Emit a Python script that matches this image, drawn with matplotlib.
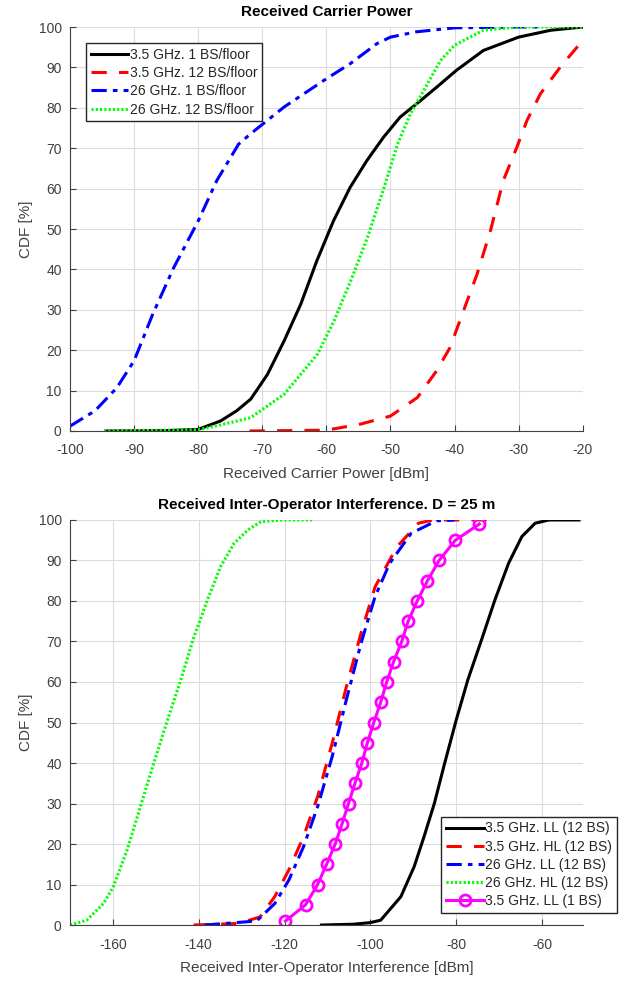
import numpy as np
import matplotlib
matplotlib.use('Agg')
import matplotlib.pyplot as plt

plt.rcParams['font.family'] = ['Liberation Sans', 'DejaVu Sans']
plt.rcParams['axes.unicode_minus'] = False

# --- верхній графік: потужність несучої ---
p35_1_x = [-94.4, -85, -80, -76.5, -74, -71.8, -69.2, -66.6, -64, -61.5, -58.9, -56.3, -53.7, -51.1,
           -48.5, -45.6, -42.8, -39.7, -35.5, -30, -25, -20]
p35_1_y = [0, 0.1, 0.4, 2.5, 5, 7.9, 14, 22.3, 31.4, 42.1, 52, 60.3, 66.9, 72.7,
           77.7, 81.4, 85.1, 89.3, 94.2, 97.5, 99.2, 100]
p35_12_x = [-72, -60, -54.7, -50, -45.8, -42.8, -40.7, -38.6, -36.5, -34.4, -32.4, -30.3, -28.7, -26.6, -23.5, -20]
p35_12_y = [0, 0.2, 1.7, 3.7, 8.3, 14.9, 20.7, 29.8, 38.8, 49.6, 62, 70.2, 76.9, 83.5, 90.1, 96.7]
p26_1_x = [-100, -96.1, -92.7, -90, -87.1, -83.8, -80, -77.1, -73.7, -71.8, -66.6, -60, -56.3, -52.1, -50, -46,
           -40, -30, -27]
p26_1_y = [1.2, 5, 10.7, 17.4, 28.9, 40.5, 52, 62, 71, 73.6, 80.2, 87.2, 90.9, 95.9, 97.5, 98.8,
           99.8, 100, 100]
p26_12_x = [-94.7, -80, -76.5, -71.8, -66.6, -61.4, -58.8, -56.2, -53.6, -51, -48.9, -46.9, -44.8, -42.2,
            -40, -35.5, -30, -20]
p26_12_y = [0, 0.3, 1.5, 3.3, 9.1, 19, 27.3, 37.2, 47.9, 60.3, 71, 78.5, 84.3, 91.7,
            95.5, 99.2, 100, 100]

# --- нижній графік: міжоператорська інтерференція ---
ll35_12_x = [-111.4, -104, -100, -97.6, -92.9, -89.8, -87.5, -85.1, -82.7, -80, -77.3, -74.1, -71, -67.8,
             -64.7, -61.6, -58.4, -51.4]
ll35_12_y = [0, 0.2, 0.6, 1.2, 7, 14.4, 21.8, 30, 39.9, 50.6, 60.5, 70.4, 80.2, 89.3,
             95.9, 99.2, 100, 100]
hl35_12_x = [-141.2, -130.7, -125.7, -122.3, -119, -115.6, -112.3, -108.9, -105.6, -102.2, -98.9, -93.8,
             -88.8, -85.4, -72.9]
hl35_12_y = [0, 0.4, 2, 7, 13.6, 21.8, 31.7, 44.9, 58.8, 72, 83.5, 93.4, 99.2, 100, 100]
ll26_12_x = [-138.6, -126.5, -122.3, -119, -115.6, -112.3, -108.9, -105.6, -102.2, -98.9, -95.5, -90.5,
             -84.6, -80.4]
ll26_12_y = [0, 1, 5.3, 11.1, 19.3, 29.2, 41.6, 55.6, 69.5, 81.1, 89.3, 96.7, 99.8, 100]
hl26_12_x = [-170, -166.1, -162.2, -159.9, -156.7, -153.6, -150.5, -147.3, -144.2, -141.1, -138, -134.9,
             -131.8, -128.6, -125.5, -120, -113.1]
hl26_12_y = [0, 1.2, 5.3, 9.5, 18.5, 29.2, 39.9, 50.6, 60.5, 71.2, 80.2, 88.5,
             94.2, 97.5, 99.6, 100, 100]
ll35_1_x = [-119.8, -115.1, -112.3, -110.2, -108.2, -106.6, -105.1, -103.6, -102, -100.7, -99.2,
            -97.6, -96.2, -94.6, -92.7, -91.2, -89.1, -86.7, -84, -80.2, -74.6]
ll35_1_y = [1, 5, 10, 15, 20, 25, 30, 35, 40, 45, 50, 55, 60, 65, 70, 75, 80, 85, 90, 95, 99]

fig = plt.figure(figsize=(6.28, 9.82), dpi=100)
ax1 = fig.add_axes([0.1115, 0.5611, 0.8165, 0.4114])
ax2 = fig.add_axes([0.1115, 0.0580, 0.8165, 0.4125])

lw = 2.2
dash = (5, 4)
dashdot = (5, 2, 1.5, 2)
dot = (0.7, 0.7)
ax1.plot(p35_1_x, p35_1_y, '-', color='k', lw=lw, label='3.5 GHz. 1 BS/floor')
ax1.plot(p35_12_x, p35_12_y, '--', color='r', lw=lw, dashes=dash, label='3.5 GHz. 12 BS/floor')
ax1.plot(p26_1_x, p26_1_y, '-.', color='b', lw=lw, dashes=dashdot, label='26 GHz. 1 BS/floor')
ax1.plot(p26_12_x, p26_12_y, ':', color='#00ff00', lw=lw, dashes=dot, label='26 GHz. 12 BS/floor')
ax1.set_xlim(-100, -20)
ax1.set_ylim(0, 100)
ax1.set_xticks(np.arange(-100, -19, 10))
ax1.set_yticks(np.arange(0, 101, 10))
ax1.set_title('Received Carrier Power', fontsize=11, fontweight='bold', pad=8)
ax1.set_xlabel('Received Carrier Power [dBm]', fontsize=11, color='#404040', labelpad=7)
ax1.set_ylabel('CDF [%]', fontsize=11, color='#404040')
leg1 = ax1.legend(loc='upper left', bbox_to_anchor=(0.031, 0.96), fontsize=10, frameon=True,
                  fancybox=False, edgecolor='#262626', handlelength=2.7, handletextpad=0.1,
                  borderpad=0.35, labelspacing=0.3, borderaxespad=0)

ax2.plot(ll35_12_x, ll35_12_y, '-', color='k', lw=lw, label='3.5 GHz. LL (12 BS)')
ax2.plot(hl35_12_x, hl35_12_y, '--', color='r', lw=lw, dashes=dash, label='3.5 GHz. HL (12 BS)')
ax2.plot(ll26_12_x, ll26_12_y, '-.', color='b', lw=lw, dashes=dashdot, label='26 GHz. LL (12 BS)')
ax2.plot(hl26_12_x, hl26_12_y, ':', color='#00ff00', lw=lw, dashes=dot, label='26 GHz. HL (12 BS)')
ax2.plot(ll35_1_x, ll35_1_y, '-o', color='#ff00ff', lw=lw, ms=8, mfc='none', mew=2,
         label='3.5 GHz. LL (1 BS)')
ax2.set_xlim(-170, -50.5)
ax2.set_ylim(0, 100)
ax2.set_xticks(np.arange(-160, -59, 20))
ax2.set_yticks(np.arange(0, 101, 10))
ax2.set_title('Received Inter-Operator Interference. D = 25 m', fontsize=11, fontweight='bold', pad=8)
ax2.set_xlabel('Received Inter-Operator Interference [dBm]', fontsize=11, color='#404040', labelpad=7)
ax2.set_ylabel('CDF [%]', fontsize=11, color='#404040')
leg2 = ax2.legend(loc='lower right', bbox_to_anchor=(1.066, 0.03), fontsize=10, frameon=True,
                  fancybox=False, edgecolor='#262626', handlelength=2.7, handletextpad=0.1,
                  borderpad=0.35, labelspacing=0.3, borderaxespad=0)

for ax, leg in ((ax1, leg1), (ax2, leg2)):
    leg.get_frame().set_linewidth(1.0)
    leg.get_frame().set_alpha(1)
    for t in leg.get_texts():
        t.set_color('#262626')
    ax.grid(True, color='#dcdcdc', lw=0.8)
    ax.set_axisbelow(True)
    ax.tick_params(direction='in', length=4, labelsize=10, colors='#404040')
    ax.tick_params(axis='x', pad=9)
    ax.tick_params(axis='y', pad=6)
    for s in ('top', 'right'):
        ax.spines[s].set_visible(False)
    for s in ('left', 'bottom'):
        ax.spines[s].set_color('#404040')

fig.savefig('out.png', dpi=100)
